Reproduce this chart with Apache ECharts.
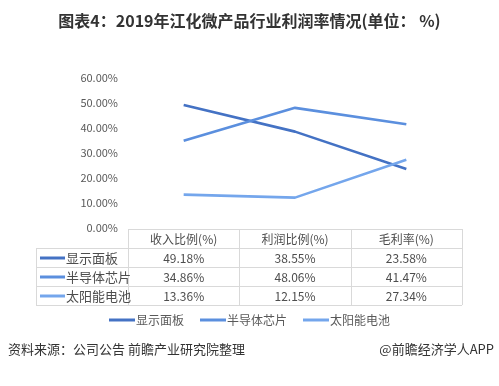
<!DOCTYPE html>
<html><head><meta charset="utf-8">
<script src="https://cdn.jsdelivr.net/npm/echarts@6/dist/echarts.min.js"></script>
<style>html,body{margin:0;padding:0;background:#fff}#c{width:499px;height:386px}</style>
</head><body><div id="c"></div>
<script>
const titleText = '图表4：2019年江化微产品行业利润率情况(单位： %)';
const categories = ['收入比例(%)', '利润比例(%)', '毛利率(%)'];
const seriesNames = ['显示面板', '半导体芯片', '太阳能电池'];
const displayPanel = [49.18, 38.55, 23.58];
const semiconductorChip = [34.86, 48.06, 41.47];
const solarCell = [13.36, 12.15, 27.34];
const yMin = 0, yMax = 60, yStep = 10;
const sourceText = '资料来源：公司公告 前瞻产业研究院整理';
const creditText = '@前瞻经济学人APP';

const allSeries = [displayPanel, semiconductorChip, solarCell];
const colors = ['#4472C4', '#5B8FDE', '#74A6EC'];
const FONT = '"Noto Sans CJK SC", "Noto Sans", sans-serif';

const GRID = { left: 128, right: 37, top: 78, bottom: 158 };
const chart = echarts.init(document.getElementById('c'), null, { renderer: 'canvas' });

chart.setOption({
  animation: false,
  backgroundColor: '#fff',
  textStyle: { fontFamily: FONT },
  title: {
    text: titleText, left: 'center', top: 8,
    textStyle: { fontSize: 16, fontWeight: 'bold', color: '#333', fontFamily: FONT }
  },
  grid: GRID,
  legend: {
    bottom: 55, left: 'center', icon: 'rect', itemWidth: 26, itemHeight: 3, itemGap: 16,
    textStyle: { fontSize: 12, color: '#595959', fontFamily: FONT, padding: [0, 0, 0, -4] },
    data: seriesNames
  },
  xAxis: {
    type: 'category', data: categories, boundaryGap: true,
    axisLine: { show: false }, axisTick: { show: false }, axisLabel: { show: false }
  },
  yAxis: {
    type: 'value', min: yMin, max: yMax, interval: yStep,
    axisLine: { show: false }, axisTick: { show: false }, splitLine: { show: false },
    axisLabel: { margin: 10, fontSize: 11, color: '#595959', fontFamily: FONT,
      formatter: v => v.toFixed(2) + '%' }
  },
  series: allSeries.map((d, i) => ({
    name: seriesNames[i], type: 'line', data: d, symbol: 'none',
    lineStyle: { width: 2.6, color: colors[i] }, itemStyle: { color: colors[i] }
  }))
});

// Build data table under the plot from the same arrays
const x0 = GRID.left, x1 = 499 - GRID.right;
const band = (x1 - x0) / categories.length;
const zeroY = chart.convertToPixel({ yAxisIndex: 0 }, 0);
const rowH = 19;
const tableTop = Math.round(zeroY) + 1;
const leftX = 36;
const lineColor = '#d9d9d9';
const textColor = '#4d4d4d';
const g = [];
const hline = (xa, xb, y) => g.push({ type: 'line', shape: { x1: xa, y1: y + 0.5, x2: xb, y2: y + 0.5 }, style: { stroke: lineColor, lineWidth: 1 }, silent: true });
const vline = (x, ya, yb) => g.push({ type: 'line', shape: { x1: x + 0.5, y1: ya, x2: x + 0.5, y2: yb }, style: { stroke: lineColor, lineWidth: 1 }, silent: true });

const nRows = seriesNames.length;
const bottomY = tableTop + rowH * (nRows + 1);
hline(x0, x1, tableTop);
for (let r = 1; r <= nRows + 1; r++) hline(leftX, x1, tableTop + rowH * r);
vline(leftX, tableTop + rowH, bottomY);
for (let c = 0; c <= categories.length; c++) vline(Math.round(x0 + band * c), tableTop, bottomY);

categories.forEach((cat, c) => {
  const cx = chart.convertToPixel({ xAxisIndex: 0 }, c);
  g.push({ type: 'text', x: cx, y: tableTop + rowH / 2 + 0.5, style: { text: cat, font: '12px ' + FONT, fill: textColor, align: 'center', verticalAlign: 'middle' }, silent: true });
  allSeries.forEach((d, r) => {
    g.push({ type: 'text', x: cx, y: tableTop + rowH * (r + 1.5) + 0.5, style: { text: d[c].toFixed(2) + '%', font: '12px ' + FONT, fill: textColor, align: 'center', verticalAlign: 'middle' }, silent: true });
  });
});
seriesNames.forEach((name, r) => {
  const cy = tableTop + rowH * (r + 1.5) + 0.5;
  g.push({ type: 'line', shape: { x1: 40, y1: cy, x2: 65, y2: cy }, style: { stroke: colors[r], lineWidth: 3 }, silent: true });
  g.push({ type: 'text', x: 66, y: cy, style: { text: name, font: '13px ' + FONT, fill: textColor, align: 'left', verticalAlign: 'middle' }, silent: true });
});

g.push({ type: 'text', x: 8, y: 349, style: { text: sourceText, font: '13px ' + FONT, fill: '#333', align: 'left', verticalAlign: 'middle' }, silent: true });
g.push({ type: 'text', x: 494, y: 349, style: { text: creditText, font: '13px ' + FONT, fill: '#333', align: 'right', verticalAlign: 'middle' }, silent: true });

chart.setOption({ graphic: { elements: g } });
</script></body></html>
